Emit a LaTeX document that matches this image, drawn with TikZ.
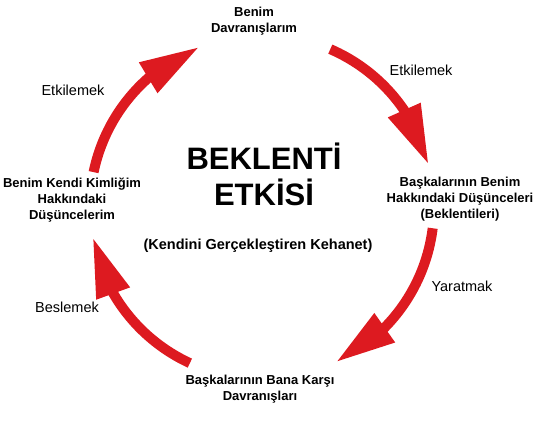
\documentclass[tikz,border=0pt]{standalone}
\usepackage{fontspec}
\setmainfont{Liberation Sans}
\usetikzlibrary{arrows.meta,bending}
\definecolor{arrred}{RGB}{221,26,32}
\begin{document}
\begin{tikzpicture}[x=1pt,y=1pt,
  stage/.style={font=\fontsize{13}{16}\selectfont\bfseries, align=center, inner sep=0pt},
  verb/.style={font=\fontsize{14.5}{17}\selectfont, inner sep=0pt},
  cyc/.style={draw=arrred, line width=10pt,
    -{Triangle[length=60pt,width=33pt,flex]}}]
\useasboundingbox (0,0) rectangle (552,429);
\coordinate (c) at (262,222);
% stage nodes
\node[stage] (top) at (254,408) {Benim\\Davranışlarım};
\node[stage] (right) at (460,230) {Başkalarının Benim\\Hakkındaki Düşünceleri\\(Beklentileri)};
\node[stage] (bottom) at (260,40) {Başkalarının Bana Karşı\\Davranışları};
\node[stage] (left) at (72,229) {Benim Kendi Kimliğim\\Hakkındaki\\Düşüncelerim};
% title
\node[font=\fontsize{31}{36}\selectfont\bfseries, align=center, inner sep=0pt] (title) at (264,255) {BEKLENTİ\\ETKİSİ};
\node[font=\fontsize{14.5}{17}\selectfont\bfseries, inner sep=0pt] (sub) at (258,183) {(Kendini Gerçekleştiren Kehanet)};
% verbs
\node[verb] (v1) at (73,339) {Etkilemek};
\node[verb] (v2) at (421,359) {Etkilemek};
\node[verb] (v3) at (462,143) {Yaratmak};
\node[verb] (v4) at (67,122) {Beslemek};
% arrows
\coordinate (a1) at ([shift={(168.3:172)}]c);
\coordinate (a2) at ([shift={(66.6:172)}]c);
\coordinate (a3) at ([shift={(-7.1:172)}]c);
\coordinate (a4) at ([shift={(-114.8:172)}]c);
\draw[cyc] (a1) arc[start angle=168.3, end angle=111.3, radius=172];
\draw[cyc] (a2) arc[start angle=66.6, end angle=14.2, radius=172];
\draw[cyc] (a3) arc[start angle=-7.1, end angle=-64.6, radius=172];
\draw[cyc] (a4) arc[start angle=-114.8, end angle=-169.9, radius=172];
\end{tikzpicture}
\end{document}
